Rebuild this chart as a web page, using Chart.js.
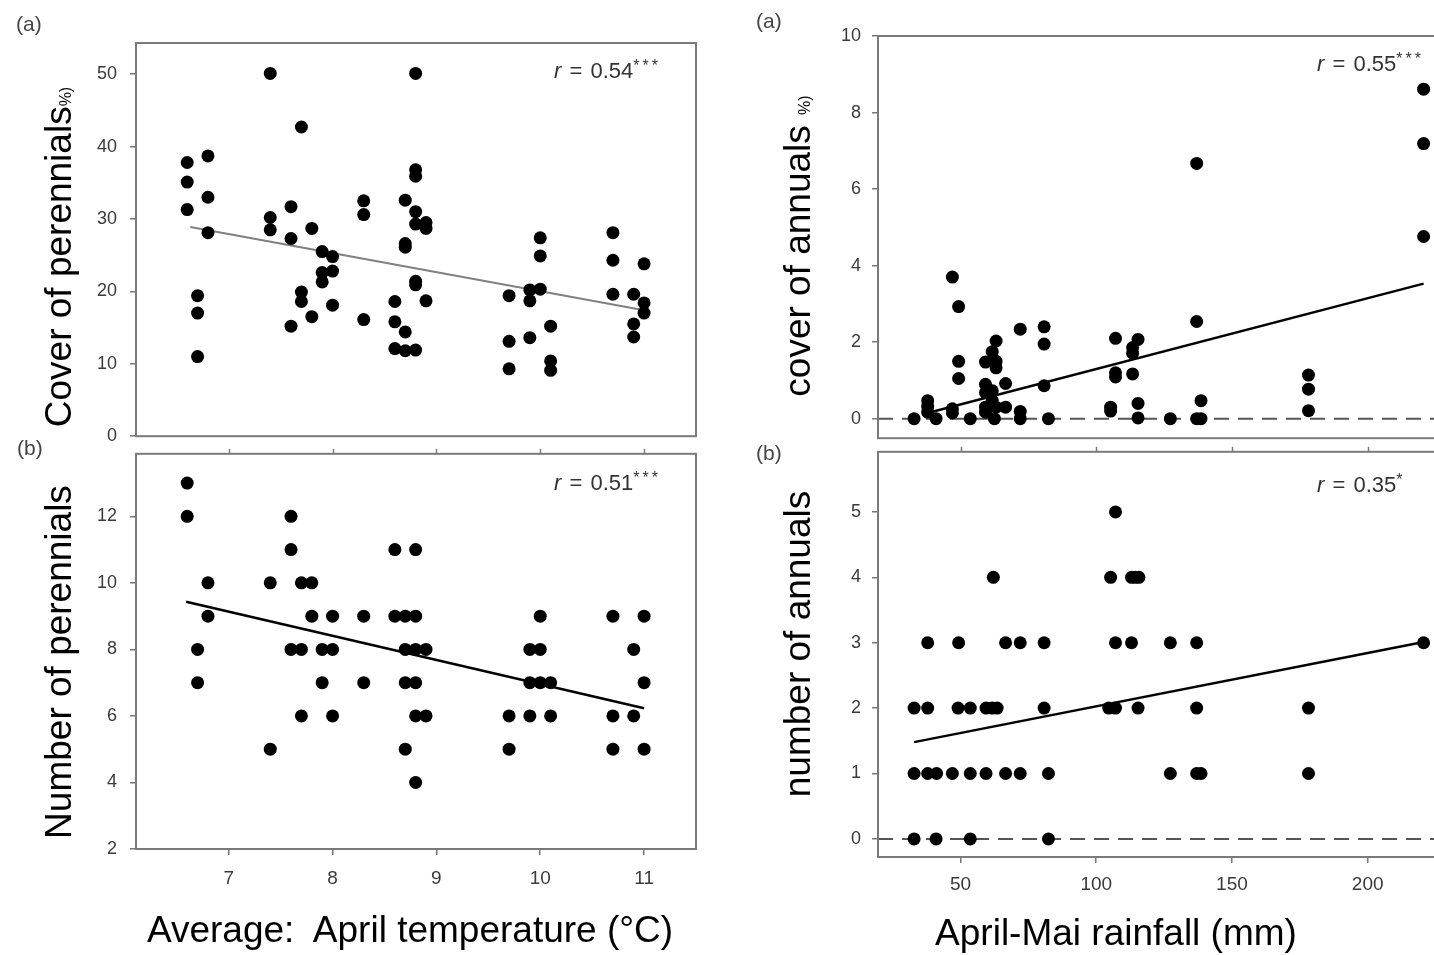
<!DOCTYPE html>
<html>
<head>
<meta charset="utf-8">
<title>Perennials and annuals vs April temperature and rainfall</title>
<script src="https://cdn.jsdelivr.net/npm/chart.js@4.4.1/dist/chart.umd.min.js"></script>
<style>
    html, body { margin: 0; padding: 0; background: #fff; }
    #fig { position: relative; width: 1434px; height: 955px; overflow: hidden; font-family: "Liberation Sans", Arial, sans-serif; }
    #fig canvas { position: absolute; }
    .tag { position: absolute; font-size: 21px; line-height: 1; color: #444; white-space: pre; }
    .rval { position: absolute; font-size: 22px; line-height: 1; color: #333; white-space: pre; word-spacing: 2px; }
    .rval sup { font-size: 16px; line-height: 0; vertical-align: 0.42em; letter-spacing: 3px; }
    .xtitle { position: absolute; font-size: 37px; line-height: 1; color: #000; white-space: pre; transform: translate(-50%, -50%); }
    .ytitle { position: absolute; font-size: 37px; line-height: 1; color: #000; white-space: pre; transform: translate(-50%, -50%) rotate(-90deg); }
    .ytitle small { font-size: 16px; }
</style>
</head>
<body>
<div id="fig">
    <canvas id="chartTL" width="720" height="460" style="left:0;top:0"></canvas>
    <canvas id="chartBL" width="720" height="525" style="left:0;top:430px"></canvas>
    <canvas id="chartTR" width="720" height="460" style="left:717px;top:0"></canvas>
    <canvas id="chartBR" width="720" height="525" style="left:717px;top:430px"></canvas>

    <div class="tag" style="left:16px;top:13px">(a)</div>
    <div class="tag" style="left:17px;top:437px">(b)</div>
    <div class="tag" style="left:756px;top:10px">(a)</div>
    <div class="tag" style="left:756px;top:442px">(b)</div>

    <div class="rval" style="left:554px;top:60px"><i>r</i> = 0.54<sup>***</sup></div>
    <div class="rval" style="left:554px;top:472px"><i>r</i> = 0.51<sup>***</sup></div>
    <div class="rval" style="left:1317px;top:53px"><i>r</i> = 0.55<sup>***</sup></div>
    <div class="rval" style="left:1317px;top:474px"><i>r</i> = 0.35<sup>*</sup></div>

    <div class="ytitle" style="left:58px;top:257px">Cover of perennials<small>%)</small></div>
    <div class="ytitle" style="left:58px;top:662px">Number of perennials</div>
    <div class="ytitle" style="left:797px;top:246px">cover of annuals <small>%)</small></div>
    <div class="ytitle" style="left:797px;top:644px">number of annuals</div>

    <div class="xtitle" style="left:410px;top:929px">Average:  April temperature (°C)</div>
    <div class="xtitle" style="left:1116px;top:932px">April-Mai rainfall (mm)</div>
</div>

<script>
// === Data ===

// Left column: average April temperature (°C)
const tempTicks = [7, 8, 9, 10, 11];

// (a) cover of perennials (%)
const perCoverTemp = [6.6, 6.6, 6.6, 6.8, 6.8, 6.8, 6.7, 6.7, 6.7,
    7.4, 7.4, 7.4, 7.7, 7.6, 7.6, 7.6, 7.7, 7.7, 7.8, 7.8,
    7.9, 7.9, 7.9, 8.0, 8.0, 8.0,
    8.3, 8.3, 8.3,
    8.7, 8.7, 8.7, 8.6, 8.6, 8.6, 8.7, 8.7,
    8.8, 8.8, 8.8, 8.8, 8.8, 8.8, 8.8, 8.8,
    8.9, 8.9, 8.9,
    9.7, 9.7, 9.7, 9.9, 9.9, 9.9, 10.0, 10.0, 10.0, 10.1, 10.1, 10.1,
    10.7, 10.7, 10.7, 10.9, 10.9, 10.9, 11.0, 11.0, 11.0];
const perCoverVal = [37.8, 35.1, 31.3, 38.7, 33.0, 28.1, 19.4, 17.0, 11.0,
    50.1, 30.2, 28.5, 42.7, 31.7, 27.3, 15.2, 19.9, 18.6, 28.7, 16.5,
    25.5, 22.6, 21.3, 24.8, 22.8, 18.1,
    32.5, 30.6, 16.1,
    32.6, 26.6, 26.1, 18.6, 15.8, 12.1, 14.4, 11.8,
    50.1, 36.8, 35.9, 31.0, 29.3, 21.4, 20.9, 11.9,
    29.5, 28.7, 18.7,
    19.4, 13.1, 9.3, 20.2, 18.7, 13.6, 27.4, 24.9, 20.3, 15.2, 10.4, 9.1,
    28.1, 24.3, 19.6, 19.6, 15.5, 13.7, 23.8, 18.4, 17.0];
const perCoverFitX = [6.63, 11.0];
const perCoverFitY = [28.9, 17.4];
const perCoverTicks = [0, 10, 20, 30, 40, 50];

// (b) number of perennials
const perNumTemp = [6.6, 6.6, 6.8, 6.8, 6.7, 6.7,
    7.4, 7.4, 7.6, 7.6, 7.6, 7.7, 7.7, 7.7, 7.8, 7.8,
    7.9, 7.9, 8.0, 8.0, 8.0, 8.3, 8.3,
    8.6, 8.6, 8.7, 8.7, 8.7, 8.7, 8.8, 8.8, 8.8, 8.8, 8.8, 8.8, 8.9, 8.9,
    9.7, 9.7, 9.9, 9.9, 9.9, 10.0, 10.0, 10.0, 10.1, 10.1,
    10.7, 10.7, 10.7, 10.9, 10.9, 11.0, 11.0, 11.0];
const perNumVal = [13, 12, 10, 9, 8, 7,
    10, 5, 12, 11, 8, 10, 8, 6, 10, 9,
    8, 7, 9, 8, 6, 9, 7,
    11, 9, 9, 8, 7, 5, 11, 9, 8, 7, 6, 4, 8, 6,
    6, 5, 8, 7, 6, 9, 8, 7, 7, 6,
    9, 6, 5, 8, 6, 9, 7, 5];
const perNumFitX = [6.59, 11.0];
const perNumFitY = [9.43, 6.23];
const perNumTicks = [2, 4, 6, 8, 10, 12];

// Right column: April-Mai rainfall (mm)
const rainTicks = [50, 100, 150, 200];

// (a) cover of annuals (%)
const annCoverRain = [32.9, 37.9, 37.9, 37.9, 41.0, 47.0, 47.0, 47.0, 49.3, 49.3, 49.3, 53.6,
    59.2, 59.2, 59.2, 59.2, 59.2, 61.7, 63.1, 63.1, 63.1, 61.7, 61.7, 62.5, 63.1,
    66.6, 66.6, 72.0, 72.0, 72.0, 80.8, 80.8, 80.8, 82.4,
    107.1, 107.1, 107.1, 105.3, 105.3, 113.4, 113.4, 113.4, 115.4, 115.4, 115.4, 127.3,
    137.0, 137.0, 138.6, 137.0, 138.6, 178.2, 178.2, 178.2, 220.6, 220.6, 220.6];
const annCoverVal = [0, 0.47, 0.32, 0.17, 0, 3.70, 0.26, 0.15, 2.93, 1.50, 1.05, 0,
    1.48, 0.90, 0.68, 0.30, 0.17, 1.75, 2.03, 1.50, 1.33, 0.73, 0.47, 0, 0.30,
    0.92, 0.30, 2.34, 0.19, 0, 2.40, 1.95, 0.86, 0,
    2.10, 1.20, 1.09, 0.30, 0.20, 1.17, 1.71, 1.86, 2.07, 0.40, 0.02, 0,
    6.67, 2.54, 0.47, 0, 0, 1.14, 0.77, 0.21, 8.61, 7.19, 4.76];
const annCoverFitX = [37.9, 220.6];
const annCoverFitY = [0.15, 3.53];
const annCoverTicks = [0, 2, 4, 6, 8, 10];

// (b) number of annuals
const annNumRain = [107.1,
    62.1, 105.3, 113.0, 114.4, 115.7,
    37.9, 49.3, 66.6, 72.0, 80.8, 107.1, 113.0, 127.3, 137.0, 220.6,
    32.9, 37.9, 49.1, 53.6, 59.4, 61.7, 63.5, 80.8, 104.6, 107.1, 115.4, 137.0, 178.2,
    32.9, 37.9, 41.2, 47.0, 53.6, 59.4, 66.6, 72.0, 82.4, 127.3, 137.0, 138.6, 178.2,
    32.9, 41.0, 53.6, 82.4];
const annNumVal = [5,
    4, 4, 4, 4, 4,
    3, 3, 3, 3, 3, 3, 3, 3, 3, 3,
    2, 2, 2, 2, 2, 2, 2, 2, 2, 2, 2, 2, 2,
    1, 1, 1, 1, 1, 1, 1, 1, 1, 1, 1, 1, 1,
    0, 0, 0, 0];
const annNumFitX = [32.9, 220.6];
const annNumFitY = [1.48, 3.01];
const annNumTicks = [0, 1, 2, 3, 4, 5];

// zero reference line in the annual panels
const zeroLineX = [19.6, 224.8];
const zeroLineY = [0, 0];

// === Helpers ===
const FONT = '"Liberation Sans", Arial, sans-serif';
const toPoints = (xs, ys) => xs.map((x, i) => ({ x: x, y: ys[i] }));

// box around the plot area + optional tick marks on the top edge
const framePlugin = {
    id: 'frame',
    afterDatasetsDraw(chart, args, opts) {
        const ctx = chart.ctx;
        const a = chart.chartArea;
        ctx.save();
        ctx.strokeStyle = '#7a7a7a';
        ctx.lineWidth = 2;
        ctx.strokeRect(a.left, a.top, a.right - a.left, a.bottom - a.top);
        if (opts.topTicks) {
            const xs = chart.scales.x;
            ctx.lineWidth = 1.5;
            xs.ticks.forEach(t => {
                const px = Math.round(xs.getPixelForValue(t.value)) + 0.5;
                ctx.beginPath();
                ctx.moveTo(px, a.top);
                ctx.lineTo(px, a.top - 5);
                ctx.stroke();
            });
        }
        ctx.restore();
    }
};

function makePanel(id, p) {
    const datasets = [
        { data: toPoints(p.x, p.y), backgroundColor: '#000', borderWidth: 0, pointRadius: 6.5, showLine: false },
        { data: toPoints(p.fitX, p.fitY), borderColor: p.fitColor, borderWidth: p.fitWidth, pointRadius: 0, showLine: true, fill: false }
    ];
    if (p.zeroLine) {
        datasets.push({ data: toPoints(zeroLineX, zeroLineY), borderColor: '#555', borderWidth: 2, borderDash: [15, 9], pointRadius: 0, showLine: true, fill: false });
    }

    const tickFont = { family: FONT, size: 19 };

    return new Chart(document.getElementById(id), {
        type: 'scatter',
        data: { datasets: datasets },
        options: {
            responsive: false,
            animation: false,
            events: [],
            layout: { autoPadding: false, padding: p.padding },
            plugins: { legend: { display: false }, tooltip: { enabled: false }, frame: { topTicks: p.topTicks } },
            scales: {
                x: {
                    type: 'linear',
                    min: p.xMin, max: p.xMax,
                    afterBuildTicks: s => { s.ticks = p.xTicks.map(v => ({ value: v })); },
                    afterFit: s => { s.height = p.xHeight; },
                    border: { display: false },
                    grid: { display: p.xLabels, drawOnChartArea: false, drawTicks: true, tickLength: 6, color: '#777', lineWidth: 1.5 },
                    ticks: { display: p.xLabels, color: '#3a3a3a', font: tickFont, padding: p.xPad, maxRotation: 0, autoSkip: false }
                },
                y: {
                    type: 'linear',
                    min: p.yMin, max: p.yMax,
                    afterBuildTicks: s => { s.ticks = p.yTicks.map(v => ({ value: v })); },
                    afterFit: s => { s.width = p.yWidth; },
                    border: { display: false },
                    grid: { drawOnChartArea: false, drawTicks: true, tickLength: 6, color: '#777', lineWidth: 1.5 },
                    ticks: { color: '#3a3a3a', font: { family: FONT, size: 18 }, padding: p.yPad, autoSkip: false }
                }
            }
        },
        plugins: [framePlugin]
    });
}

// === Panels ===
document.addEventListener('DOMContentLoaded', () => {
    makePanel('chartTL', {
        x: perCoverTemp, y: perCoverVal, fitX: perCoverFitX, fitY: perCoverFitY, fitColor: '#808080', fitWidth: 2,
        xMin: 6.107, xMax: 11.5, xTicks: tempTicks, xLabels: false, xHeight: 17, xPad: 0,
        yMin: 0, yMax: 54.3, yTicks: perCoverTicks, yWidth: 136, yPad: 13,
        padding: { top: 43, right: 24, bottom: 0, left: 0 }
    });
    makePanel('chartBL', {
        x: perNumTemp, y: perNumVal, fitX: perNumFitX, fitY: perNumFitY, fitColor: '#000', fitWidth: 2.5,
        xMin: 6.107, xMax: 11.5, xTicks: tempTicks, xLabels: true, xHeight: 106, xPad: 12,
        yMin: 2, yMax: 13.88, yTicks: perNumTicks, yWidth: 136, yPad: 13,
        padding: { top: 13, right: 24, bottom: 0, left: 0 }, topTicks: true
    });
    makePanel('chartTR', {
        x: annCoverRain, y: annCoverVal, fitX: annCoverFitX, fitY: annCoverFitY, fitColor: '#000', fitWidth: 2.5, zeroLine: true,
        xMin: 19.6, xMax: 224.8, xTicks: rainTicks, xLabels: false, xHeight: 15, xPad: 0,
        yMin: -0.51, yMax: 10, yTicks: annCoverTicks, yWidth: 161, yPad: 11,
        padding: { top: 36, right: 2, bottom: 0, left: 0 }
    });
    makePanel('chartBR', {
        x: annNumRain, y: annNumVal, fitX: annNumFitX, fitY: annNumFitY, fitColor: '#000', fitWidth: 2.5, zeroLine: true,
        xMin: 19.6, xMax: 224.8, xTicks: rainTicks, xLabels: true, xHeight: 98, xPad: 10,
        yMin: -0.277, yMax: 5.92, yTicks: annNumTicks, yWidth: 161, yPad: 11,
        padding: { top: 15, right: 2, bottom: 0, left: 0 }, topTicks: true
    });
});
</script>
</body>
</html>
